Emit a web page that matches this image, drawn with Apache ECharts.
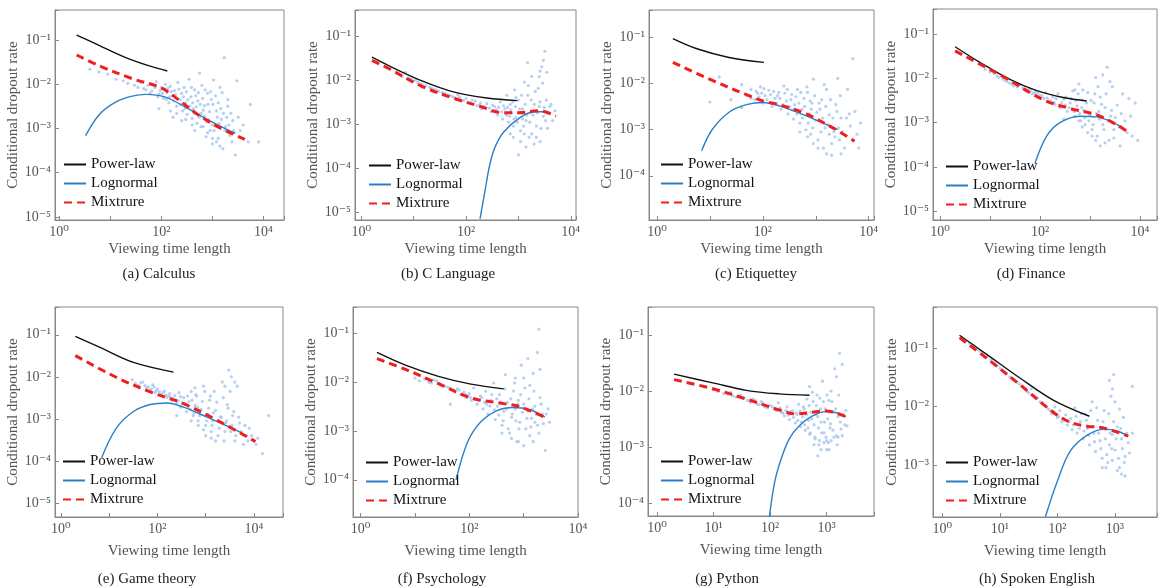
<!DOCTYPE html>
<html>
<head>
<meta charset="utf-8">
<script src="https://cdn.jsdelivr.net/npm/echarts@6/dist/echarts.min.js"></script>
<style>
  html, body { margin: 0; background: #fff; }
  #chart { width: 1161px; height: 588px; }
</style>
</head>
<body>
<div id="chart"></div>
<script>
// ---- data: [viewing time length, conditional dropout rate] ----
const captions = ['(a) Calculus', '(b) C Language', '(c) Etiquettey', '(d) Finance',
  '(e) Game theory', '(f) Psychology', '(g) Python', '(h) Spoken English'];
const legendNames = ['Power-law', 'Lognormal', 'Mixtrure'];

// (a) Calculus
const cloudA = [[4,0.022],[6,0.019],[9,0.017],[13,0.013],[18,0.012],[22,0.0105],[30,0.0095],[40,0.011],[45,0.008],[55,0.0095],[65,0.007],[80,0.0115],[90,0.006],[100,0.0085],[110,0.0048],[120,0.01],[130,0.0065],[140,0.0038],[150,0.009],[165,0.0055],[180,0.0072],[200,0.0032],[210,0.011],[230,0.0045],[250,0.0062],[260,0.0025],[280,0.0085],[300,0.0038],[320,0.0021],[350,0.013],[380,0.0052],[400,0.0017],[420,0.0028],[450,0.0075],[500,0.0013],[520,0.0042],[560,0.018],[600,0.0022],[620,0.0095],[650,0.0011],[700,0.0033],[750,0.00065],[800,0.0062],[850,0.0016],[900,0.0009],[950,0.0045],[1000,0.00045],[1050,0.0125],[1100,0.0012],[1200,0.0025],[1300,0.0006],[1400,0.0085],[1500,0.0016],[1600,0.00035],[1700,0.04],[1800,0.0011],[2000,0.0032],[2200,0.0007],[2500,0.0015],[2800,0.00025],[3000,0.012],[3500,0.0009],[5000,0.0005],[5500,0.0035],[8000,0.0005],[170,0.0018],[450,0.0009],[700,0.0019],[1300,0.0038],[2000,0.0045],[250,0.0015],[90,0.0028],
  [35,0.0085],[50,0.0075],[60,0.0062],[75,0.0085],[85,0.0052],[95,0.0072],[105,0.0062],[115,0.0078],[125,0.0045],[135,0.0082],[145,0.0052],[155,0.0068],[175,0.0042],[190,0.0058],[220,0.0078],[240,0.0035],[270,0.0052],[290,0.0028],[310,0.0068],[330,0.0045],[360,0.0032],[390,0.0085],[410,0.0038],[440,0.0022],[470,0.0055],[480,0.0031],[530,0.0065],[550,0.0018],[580,0.0035],[640,0.0048],[660,0.0026],[720,0.0075],[780,0.0014],[820,0.0035],[880,0.0024],[920,0.0068],[980,0.0012],[1020,0.0035],[1080,0.0009],[1150,0.0055],[1250,0.0018],[1350,0.0013],[1450,0.0028],[1550,0.0065],[1650,0.0022],[1750,0.0009],[1900,0.0018],[2100,0.0012],[2300,0.0022],[2600,0.0009],[3200,0.0018],[4000,0.0012],[600,0.0011],[800,0.0008],[1000,0.0006],[1200,0.0005],[1400,0.0004],[2400,0.0005],[300,0.0016],[400,0.0012],[200,0.0022],[150,0.0025]];
const powerA = [[2.2,0.13],[6.2,0.075],[13,0.05],[27,0.035],[58,0.026],[131,0.02]];
const lognA = [[3.3,0.00069],[6.2,0.0021],[13,0.004],[27,0.0054],[50,0.0059],[120,0.0051],[300,0.003],[720,0.0017],[2000,0.00093],[2800,0.00078]];
const mixA = [[2.2,0.046],[6.2,0.026],[27,0.0134],[100,0.0083],[220,0.0044],[540,0.002],[1320,0.00107],[4300,0.00057]];

// (b) C Language
const cloudB = [[3,0.019],[5,0.014],[8,0.011],[10,0.0095],[12,0.0088],[15,0.0078],[20,0.0068],[25,0.0062],[30,0.0055],[40,0.005],[50,0.0045],[60,0.004],[70,0.0046],[80,0.0035],[100,0.0038],[120,0.003],[150,0.0033],[180,0.0027],[200,0.0022],[250,0.0029],[300,0.0019],[350,0.0025],[400,0.0016],[450,0.0032],[500,0.0013],[550,0.0022],[600,0.0045],[650,0.0011],[700,0.0028],[750,0.0018],[800,0.0009],[850,0.006],[900,0.0014],[1000,0.0035],[1100,0.0007],[1200,0.0022],[1300,0.009],[1400,0.0012],[1500,0.0045],[1600,0.0005],[1700,0.0018],[1800,0.012],[2000,0.0028],[2200,0.0009],[2400,0.0065],[2600,0.0004],[2800,0.02],[3000,0.0015],[3200,0.045],[3400,0.0035],[3600,0.0008],[4000,0.0025],[4500,0.0012],[5000,0.002],[1000,0.0002],[2000,0.00035],[700,0.0006],[900,0.004],[1500,0.025],[1200,0.0013],[600,0.0016],[2500,0.012],[2500,0.0025],
  [6,0.012],[7,0.015],[9,0.0105],[11,0.01],[14,0.0082],[17,0.0075],[22,0.0065],[28,0.0058],[35,0.0052],[45,0.0046],[55,0.0042],[65,0.0038],[75,0.0041],[90,0.0034],[110,0.0031],[130,0.0035],[160,0.0026],[190,0.003],[220,0.0025],[280,0.0023],[320,0.0027],[380,0.0021],[420,0.0024],[480,0.0019],[520,0.0026],[580,0.0017],[620,0.0024],[680,0.0015],[720,0.0021],[780,0.0032],[820,0.0013],[880,0.0025],[950,0.0011],[1050,0.0022],[1150,0.0045],[1250,0.0009],[1350,0.0028],[1450,0.0016],[1550,0.0075],[1650,0.0011],[1750,0.0035],[1900,0.0016],[2100,0.0055],[2300,0.0018],[2600,0.0032],[2700,0.0008],[2900,0.0085],[3100,0.0024],[3300,0.0012],[3500,0.015],[3800,0.0018],[4200,0.0028],[1100,0.0004],[1300,0.0006],[800,0.0005],[1800,0.0006],[2200,0.0005],[1400,0.0003],[3000,0.028],[2600,0.016]];
const powerB = [[1.6,0.033],[3.4,0.021],[14,0.0097],[60,0.0053],[250,0.0039],[950,0.0034]];
const lognB = [[185,7e-6],[230,3e-5],[280,1.1e-4],[350,2.8e-4],[520,6.5e-4],[1070,0.0014],[2000,0.0019],[3200,0.0019]];
const mixB = [[1.6,0.028],[3.4,0.018],[14,0.0073],[60,0.0038],[190,0.0025],[500,0.0018],[1000,0.0018],[2500,0.002],[5200,0.0015]];

// (c) Etiquettey
const cloudC = [[10,0.004],[15,0.014],[20,0.0085],[25,0.0045],[30,0.007],[40,0.0095],[40,0.003],[50,0.0055],[60,0.0075],[70,0.0045],[80,0.0062],[90,0.0085],[100,0.0038],[110,0.0055],[130,0.0072],[150,0.0032],[170,0.0048],[200,0.0065],[220,0.0028],[250,0.009],[280,0.0042],[300,0.0022],[350,0.0058],[380,0.0017],[400,0.0035],[450,0.0075],[500,0.0014],[550,0.0028],[600,0.0048],[650,0.001],[700,0.0065],[750,0.0022],[800,0.0008],[850,0.0038],[900,0.0125],[1000,0.0016],[1100,0.0006],[1200,0.0028],[1300,0.0045],[1400,0.0004],[1500,0.0011],[1600,0.0075],[1800,0.0021],[2000,0.00028],[2200,0.0009],[2400,0.0035],[2600,0.013],[2800,0.0006],[3000,0.0018],[3500,0.0004],[4000,0.0075],[4500,0.0012],[5000,0.035],[5500,0.0025],[6000,0.0008],[7000,0.0014],
  [60,0.0048],[75,0.0068],[85,0.0052],[95,0.0062],[105,0.0078],[120,0.0045],[140,0.0058],[160,0.0068],[180,0.0038],[190,0.0055],[210,0.0048],[240,0.0035],[260,0.0062],[290,0.0075],[320,0.0032],[340,0.0045],[370,0.0027],[420,0.0052],[440,0.0022],[480,0.0038],[520,0.0065],[560,0.0018],[620,0.0032],[680,0.0085],[720,0.0014],[780,0.0042],[820,0.0028],[880,0.0011],[950,0.0055],[1050,0.0024],[1150,0.0038],[1250,0.0009],[1350,0.0018],[1450,0.0095],[1550,0.0032],[1700,0.0013],[1900,0.0045],[2100,0.0018],[2300,0.0007],[2500,0.0025],[2700,0.0011],[2900,0.0055],[3200,0.0009],[3800,0.0018],[4300,0.0022],[5000,0.0006],[6500,0.0004],[900,0.0005],[1100,0.0004],[700,0.0007],[1600,0.0003],[500,0.0009],[2000,0.0005],[3000,0.0003],[1800,0.0008]];
const powerC = [[2,0.095],[5.5,0.058],[23,0.037],[105,0.029]];
const lognC = [[7,3.5e-4],[11,0.001],[23,0.0024],[49,0.0035],[100,0.0039],[205,0.0033],[660,0.002],[2600,0.001]];
const mixC = [[2,0.029],[11.4,0.0116],[49,0.0058],[100,0.0042],[205,0.0035],[660,0.0022],[2100,0.0011],[5400,0.00056]];

// (d) Finance
const cloudD = [[8,0.016],[12,0.013],[15,0.0105],[20,0.009],[25,0.0078],[30,0.0068],[40,0.0072],[50,0.0055],[60,0.006],[70,0.0045],[80,0.005],[100,0.0042],[120,0.0035],[130,0.0048],[150,0.003],[180,0.0038],[200,0.0026],[230,0.0045],[250,0.0022],[300,0.0034],[300,0.0012],[350,0.0018],[400,0.0028],[450,0.0052],[500,0.0014],[500,0.0055],[550,0.0024],[600,0.0075],[650,0.0011],[700,0.0033],[750,0.0019],[800,0.0009],[900,0.0048],[1000,0.0015],[1100,0.0007],[1200,0.0028],[1300,0.0105],[1400,0.0005],[1500,0.0018],[1600,0.0038],[1800,0.0009],[2000,0.0022],[2200,0.018],[2400,0.0004],[2600,0.0014],[2800,0.0065],[3000,0.0007],[3500,0.0025],[4000,0.0003],[4500,0.0045],[5000,0.0011],[6000,0.0035],[7000,0.0005],[8000,0.0028],[9000,0.0004],
  [10,0.014],[14,0.0115],[18,0.0098],[22,0.0085],[28,0.0072],[35,0.0065],[45,0.006],[55,0.0052],[65,0.0055],[75,0.0047],[90,0.0046],[110,0.004],[140,0.0036],[160,0.0032],[190,0.0029],[210,0.0035],[270,0.0028],[320,0.0025],[330,0.0038],[380,0.0022],[420,0.0035],[480,0.0018],[520,0.0032],[580,0.0045],[620,0.0016],[680,0.0022],[720,0.0055],[780,0.0013],[850,0.0028],[950,0.0011],[1050,0.0032],[1150,0.0009],[1250,0.0045],[1350,0.0016],[1450,0.0065],[1550,0.0012],[1700,0.0026],[1900,0.0007],[2100,0.0045],[2300,0.0011],[2500,0.0085],[2700,0.0019],[3200,0.0013],[3800,0.0008],[4200,0.0016],[5500,0.0006],[6500,0.0014],[700,0.0008],[900,0.0006],[1100,0.0005],[1300,0.0004],[1600,0.0003],[2000,0.00035],[3000,0.00045],[600,0.0011],[1800,0.012]];
const powerD = [[2,0.052],[6.3,0.023],[25,0.0095],[86,0.0053],[290,0.0037],[860,0.0031]];
const lognD = [[79,1.2e-4],[135,4.9e-4],[250,0.001],[630,0.0014],[1360,0.00135],[4600,7.6e-4]];
const mixD = [[2,0.042],[8.6,0.0175],[18.5,0.011],[117,0.0033],[400,0.0021],[1360,0.0015],[3400,9e-4],[5600,6.3e-4]];

// (e) Game theory
const cloudE = [[30,0.0085],[40,0.0062],[50,0.0075],[60,0.0055],[70,0.0048],[80,0.0065],[90,0.0042],[100,0.0052],[120,0.0038],[140,0.0046],[160,0.0032],[180,0.004],[200,0.0028],[230,0.0036],[250,0.0023],[250,0.0012],[280,0.0042],[300,0.0019],[350,0.0032],[400,0.0015],[450,0.0026],[500,0.0045],[550,0.0012],[600,0.0021],[600,0.0055],[650,0.0035],[700,0.0009],[800,0.0017],[900,0.006],[900,0.00055],[1000,0.0007],[1100,0.0013],[1200,0.0028],[1300,0.0005],[1400,0.0009],[1500,0.0045],[1600,0.0016],[1800,0.0004],[2000,0.0011],[2200,0.0075],[2400,0.0003],[2600,0.0008],[2800,0.0022],[3000,0.0145],[3300,0.0005],[3600,0.0012],[4000,0.0003],[4500,0.006],[5000,0.0008],[6000,0.00025],[7000,0.0004],[8000,0.0006],[10000,0.0003],[12000,0.00035],[15000,0.00015],[20000,0.0012],
  [35,0.007],[45,0.0072],[55,0.0062],[65,0.0058],[75,0.0052],[85,0.0058],[95,0.0047],[110,0.0044],[130,0.0042],[150,0.0037],[170,0.0035],[190,0.0033],[210,0.0031],[240,0.0029],[270,0.0027],[300,0.0034],[320,0.0024],[380,0.0022],[420,0.0035],[480,0.0017],[520,0.0028],[580,0.0014],[620,0.0038],[680,0.0019],[750,0.0012],[850,0.0026],[950,0.0045],[1050,0.0009],[1150,0.0018],[1250,0.0035],[1350,0.0007],[1450,0.0014],[1700,0.0025],[1900,0.0006],[2100,0.0011],[2300,0.0032],[2500,0.0005],[2700,0.0009],[2900,0.0018],[3200,0.0045],[3500,0.0007],[3800,0.0015],[4200,0.0004],[4800,0.0011],[5500,0.0005],[6500,0.0007],[7500,0.0003],[9000,0.0004],[11000,0.00025],[700,0.0007],[1000,0.0004],[1300,0.00035],[1600,0.0003],[500,0.0009],[3400,0.01],[4000,0.0075],[2500,0.006]];
const powerE = [[2,0.092],[6.5,0.05],[32,0.022],[215,0.013]];
const lognE = [[7,1.2e-4],[14,6e-4],[32,0.0015],[71,0.0022],[160,0.0024],[350,0.0019],[1070,0.0011],[5300,4.8e-4]];
const mixE = [[2,0.032],[14,0.0098],[71,0.0044],[350,0.0023],[1730,9.3e-4],[10700,2.9e-4]];

// (f) Psychology
const cloudF = [[10,0.012],[15,0.0115],[20,0.0095],[25,0.0105],[30,0.0085],[40,0.0078],[45,0.0035],[50,0.0068],[60,0.0072],[70,0.0055],[80,0.0062],[90,0.0048],[100,0.0058],[110,0.0042],[120,0.0075],[140,0.0035],[160,0.0052],[180,0.0028],[200,0.0065],[220,0.0022],[250,0.0042],[280,0.0095],[300,0.0017],[330,0.0032],[360,0.0055],[400,0.0013],[430,0.0025],[460,0.014],[500,0.0038],[550,0.0009],[600,0.0019],[650,0.0065],[700,0.0028],[700,0.012],[750,0.0006],[800,0.0042],[850,0.0015],[900,0.022],[1000,0.0035],[1100,0.0011],[1200,0.0025],[1200,0.03],[1300,0.0085],[1400,0.0018],[1500,0.0006],[1600,0.0032],[1800,0.0013],[1800,0.04],[1900,0.12],[2000,0.0048],[2200,0.0022],[2500,0.0004],[2800,0.0028],[3000,0.0015],
  [12,0.0105],[18,0.0098],[22,0.011],[28,0.0092],[35,0.0082],[45,0.0075],[55,0.0065],[65,0.0068],[75,0.0058],[85,0.0055],[95,0.0052],[105,0.0048],[130,0.0045],[150,0.0042],[170,0.0048],[190,0.0038],[210,0.0035],[240,0.0032],[260,0.0055],[290,0.0027],[320,0.0045],[350,0.0021],[380,0.0038],[420,0.0016],[450,0.0072],[480,0.0028],[520,0.0011],[580,0.0045],[620,0.0022],[680,0.0095],[720,0.0016],[780,0.0035],[820,0.0011],[880,0.0055],[950,0.0024],[1050,0.0075],[1150,0.0018],[1250,0.0045],[1350,0.0012],[1450,0.0028],[1550,0.0065],[1700,0.0022],[1900,0.0009],[2100,0.0035],[2300,0.0014],[2600,0.0022],[400,0.0009],[600,0.0007],[800,0.0006],[1000,0.0005],[1300,0.0008],[1600,0.0015],[2000,0.018],[1500,0.015],[1000,0.012]];
const powerF = [[2,0.04],[6.7,0.022],[27,0.013],[107,0.009],[430,0.0072]];
const lognF = [[57,1e-4],[93,5.9e-4],[160,0.0015],[325,0.0026],[650,0.003],[1300,0.0027],[2450,0.0019]];
const mixF = [[2,0.03],[6.7,0.018],[27,0.0092],[107,0.0047],[430,0.0036],[860,0.0031],[2450,0.0019]];

// (g) Python
const cloudG = [[10,0.0105],[15,0.009],[20,0.0095],[25,0.0078],[30,0.0085],[40,0.0068],[50,0.0072],[60,0.0058],[70,0.0065],[80,0.0052],[100,0.0055],[120,0.0047],[140,0.0062],[160,0.0042],[180,0.0036],[200,0.0052],[220,0.0031],[250,0.0045],[280,0.0027],[300,0.0038],[320,0.0058],[350,0.0023],[380,0.0035],[400,0.0048],[420,0.002],[450,0.0072],[480,0.003],[500,0.0017],[500,0.012],[530,0.0042],[560,0.0095],[600,0.0025],[630,0.0014],[660,0.0055],[700,0.0035],[700,0.0007],[730,0.0011],[760,0.0075],[800,0.0028],[850,0.015],[900,0.0018],[900,0.0012],[950,0.0048],[1000,0.0009],[1050,0.0032],[1100,0.0068],[1150,0.0022],[1200,0.0013],[1200,0.01],[1300,0.0042],[1300,0.002],[1400,0.025],[1500,0.0016],[1600,0.0035],[1700,0.047],[1800,0.0021],[2000,0.0038],[2300,0.0024],
  [12,0.0098],[18,0.0088],[22,0.0082],[35,0.0075],[45,0.0063],[55,0.0068],[65,0.0057],[75,0.006],[90,0.005],[110,0.0052],[130,0.0045],[150,0.005],[170,0.004],[190,0.0045],[210,0.0037],[230,0.0042],[260,0.0034],[290,0.0041],[310,0.003],[340,0.0044],[360,0.0028],[390,0.0052],[410,0.0025],[440,0.0038],[470,0.0022],[490,0.0055],[520,0.0018],[550,0.0032],[580,0.0065],[620,0.0015],[650,0.0038],[680,0.0085],[720,0.0022],[750,0.0013],[780,0.0048],[820,0.0018],[880,0.0065],[920,0.0028],[980,0.0015],[1020,0.0085],[1080,0.0012],[1120,0.0042],[1180,0.0026],[1250,0.0065],[1350,0.0015],[1450,0.0048],[1550,0.0011],[1650,0.0085],[1750,0.0028],[1900,0.0016],[2100,0.0025],[2200,0.0045],[800,0.0009],[1000,0.0013],[1100,0.0009],[600,0.0011],[1600,0.0015],[1900,0.03],[1500,0.018]];
const powerG = [[2,0.02],[9.7,0.014],[38,0.0103],[146,0.0089],[500,0.0084]];
const lognG = [[97,5.5e-5],[120,2.3e-4],[156,6e-4],[219,0.0014],[330,0.0024],[565,0.0036],[975,0.0043],[1500,0.0041],[2200,0.0035]];
const mixG = [[2,0.016],[9.7,0.011],[38,0.0072],[146,0.0046],[290,0.0039],[560,0.0042],[1000,0.0044],[2300,0.0034]];

// (h) Spoken English
const cloudH = [[3,0.12],[4,0.095],[5,0.08],[6,0.07],[8,0.055],[10,0.045],[12,0.038],[15,0.032],[20,0.026],[25,0.022],[30,0.018],[35,0.02],[40,0.015],[50,0.012],[60,0.0105],[70,0.009],[80,0.0075],[90,0.0098],[100,0.0065],[110,0.0085],[120,0.0055],[140,0.0072],[150,0.0048],[170,0.0062],[180,0.004],[200,0.0095],[220,0.0035],[250,0.0055],[280,0.0028],[300,0.0075],[330,0.0042],[360,0.0022],[400,0.012],[430,0.0035],[460,0.0017],[500,0.0058],[550,0.0026],[600,0.0013],[650,0.0085],[700,0.004],[750,0.0011],[800,0.0022],[800,0.028],[850,0.015],[900,0.0033],[950,0.035],[1000,0.0018],[1100,0.0045],[1200,0.0009],[1300,0.0028],[1400,0.0065],[1500,0.0014],[1500,0.00065],[1700,0.0024],[2000,0.022],[2000,0.0035],
  [3.5,0.11],[4.5,0.088],[7,0.062],[9,0.05],[11,0.041],[13,0.036],[17,0.029],[22,0.024],[28,0.02],[32,0.017],[45,0.014],[55,0.0115],[65,0.0098],[75,0.0085],[85,0.0082],[95,0.0072],[105,0.0068],[130,0.0062],[160,0.0055],[190,0.0048],[210,0.0068],[240,0.0042],[260,0.0075],[290,0.0038],[320,0.0058],[350,0.0032],[380,0.0085],[420,0.0045],[440,0.0025],[480,0.0095],[520,0.0035],[570,0.0019],[620,0.0055],[680,0.0028],[720,0.0015],[780,0.0075],[820,0.0035],[880,0.0019],[950,0.0055],[1050,0.0028],[1150,0.0013],[1250,0.0042],[1350,0.0019],[1450,0.0011],[1600,0.0035],[1800,0.0016],[900,0.0012],[1100,0.0008],[1300,0.0007],[700,0.0009],[600,0.0009],[900,0.02],[1000,0.012],[1200,0.009]];
const powerH = [[2,0.165],[6,0.077],[23,0.03],[86,0.0127],[360,0.0068]];
const lognH = [[62,1.3e-4],[98,5e-4],[166,0.0017],[325,0.0032],[670,0.0041],[1100,0.0038],[1700,0.0031]];
const mixH = [[2,0.15],[6,0.066],[23,0.023],[86,0.0079],[166,0.0054],[325,0.0046],[630,0.0043],[1700,0.0031]];

const clouds = [cloudA, cloudB, cloudC, cloudD, cloudE, cloudF, cloudG, cloudH];
const powers = [powerA, powerB, powerC, powerD, powerE, powerF, powerG, powerH];
const lognormals = [lognA, lognB, lognC, lognD, lognE, lognF, lognG, lognH];
const mixtures = [mixA, mixB, mixC, mixD, mixE, mixF, mixG, mixH];

// ---- layout of each panel: plot box [l, t, r, b], log10 axis ranges ----
const panels = [
  { box: [55, 10, 284, 220], xr: [-0.08, 4.4], yr: [-5.07, -0.32], evenX: true, cap: 154, leg: [63, 157] },
  { box: [355, 10, 576, 220], xr: [-0.12, 4.1], yr: [-5.18, -0.41], evenX: true, cap: 443, leg: [368, 158] },
  { box: [649, 10, 874, 220], xr: [-0.15, 4.1], yr: [-4.96, -0.4], evenX: true, cap: 751, leg: [660, 157] },
  { box: [933, 9, 1157, 220], xr: [-0.14, 4.34], yr: [-5.2, -0.43], evenX: true, cap: 1026, leg: [945, 159] },
  { box: [55, 307, 283, 517], xr: [-0.12, 4.6], yr: [-5.33, -0.34], evenX: true, cap: 142, leg: [62, 454] },
  { box: [353, 307, 578, 517], xr: [-0.14, 4.0], yr: [-4.76, -0.47], evenX: true, cap: 437, leg: [365, 455] },
  { box: [648, 307, 874, 516], xr: [-0.16, 3.84], yr: [-4.23, -0.5], evenX: false, cap: 722, leg: [660, 454] },
  { box: [933, 307, 1157, 517], xr: [-0.16, 3.73], yr: [-3.89, -0.3], evenX: false, cap: 1032, leg: [945, 455] }
];

const FONT = "'Liberation Serif', 'DejaVu Serif', serif";
const SUP = { '0': '⁰', '1': '¹', '2': '²', '3': '³', '4': '⁴', '5': '⁵', '6': '⁶', '7': '⁷', '8': '⁸', '9': '⁹', '-': '⁻' };

const powLabel = (v, evenOnly) => {
  const e = Math.log10(v);
  const r = Math.round(e);
  if (Math.abs(e - r) > 1e-6) return '';
  if (evenOnly && r % 2 !== 0) return '';
  return '10' + String(r).split('').map(c => SUP[c]).join('');
};

const axisLine = { show: true, lineStyle: { color: '#888', width: 1 } };
const axisTick = { show: true, inside: true, length: 4, lineStyle: { color: '#888' } };

const grid = [], xAxis = [], yAxis = [], series = [], legend = [], title = [];

panels.forEach((p, i) => {
  const [l, t, r, b] = p.box;
  const topRow = t < 100;
  grid.push({ left: l, top: t, width: r - l, height: b - t, show: true,
    borderColor: '#888', borderWidth: 1, containLabel: false });

  xAxis.push({
    type: 'log', gridIndex: i, logBase: 10,
    min: Math.pow(10, p.xr[0]), max: Math.pow(10, p.xr[1]), splitNumber: 5,
    name: 'Viewing time length', nameLocation: 'middle', nameGap: topRow ? 22 : 27,
    nameTextStyle: { fontFamily: FONT, fontSize: 15, color: '#555' },
    axisLine, axisTick, splitLine: { show: false },
    axisLabel: { margin: 5, fontFamily: FONT, fontSize: 14, color: '#555',
      formatter: v => powLabel(v, p.evenX) }
  });
  yAxis.push({
    type: 'log', gridIndex: i, logBase: 10,
    min: Math.pow(10, p.yr[0]), max: Math.pow(10, p.yr[1]), splitNumber: 5,
    name: 'Conditional dropout rate', nameLocation: 'middle', nameGap: 30, nameRotate: 90,
    nameTextStyle: { fontFamily: FONT, fontSize: 15, color: '#555' },
    axisLine, axisTick, splitLine: { show: false },
    axisLabel: { margin: 4, fontFamily: FONT, fontSize: 14, color: '#555',
      formatter: v => powLabel(v, false) }
  });

  series.push({
    type: 'scatter', name: 'Observed', xAxisIndex: i, yAxisIndex: i,
    data: clouds[i], symbolSize: 3.2, silent: true,
    itemStyle: { color: '#a8c8ef', opacity: 0.85 }
  });
  series.push({
    type: 'line', name: 'Power-law', xAxisIndex: i, yAxisIndex: i,
    data: powers[i], smooth: 0.35, symbol: 'none',
    lineStyle: { color: '#111', width: 1.4 }, itemStyle: { color: '#111' }
  });
  series.push({
    type: 'line', name: 'Lognormal', xAxisIndex: i, yAxisIndex: i,
    data: lognormals[i], smooth: 0.35, symbol: 'none',
    lineStyle: { color: '#2a80c8', width: 1.4 }, itemStyle: { color: '#2a80c8' }
  });
  series.push({
    type: 'line', name: 'Mixtrure', xAxisIndex: i, yAxisIndex: i,
    data: mixtures[i], smooth: 0.35, symbol: 'none',
    lineStyle: { color: '#f01e1e', width: 3, type: [8, 5] }, itemStyle: { color: '#f01e1e' }
  });

  legend.push({
    left: p.leg[0], top: p.leg[1], orient: 'vertical', padding: 0,
    itemWidth: 22, itemHeight: 14, itemGap: 4, selectedMode: false,
    itemStyle: { opacity: 0 },
    textStyle: { fontFamily: FONT, fontSize: 15, color: '#111' },
    data: legendNames
  });

  title.push({
    text: captions[i], left: p.cap, top: topRow ? 262 : 567, textAlign: 'center',
    textStyle: { fontFamily: FONT, fontSize: 15, fontWeight: 'normal', color: '#222' }
  });
});

const chart = echarts.init(document.getElementById('chart'));
chart.setOption({
  backgroundColor: '#fff',
  animation: false,
  grid, xAxis, yAxis, series, legend, title
});
</script>
</body>
</html>
